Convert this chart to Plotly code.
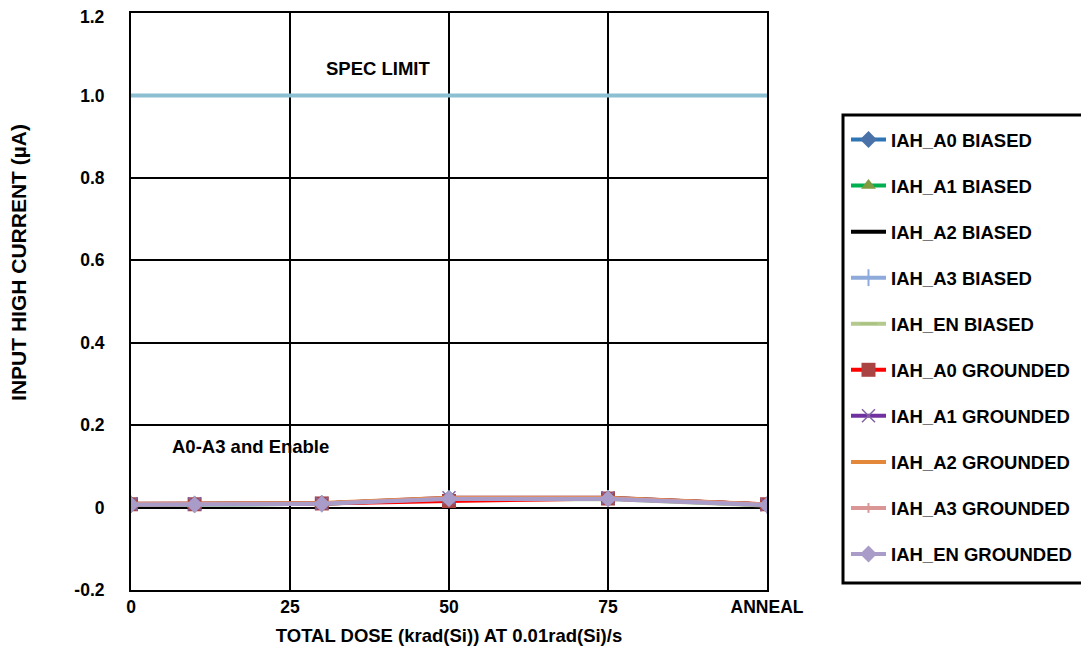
import plotly.graph_objects as go

# ---- data ----
dose_x = [0, 10, 30, 50, 75, 100]
x_tick_vals = [0, 25, 50, 75, 100]
x_tick_text = ["0", "25", "50", "75", "ANNEAL"]
y_tick_vals = [-0.2, 0, 0.2, 0.4, 0.6, 0.8, 1.0, 1.2]
y_tick_text = ["-0.2", "0", "0.2", "0.4", "0.6", "0.8", "1.0", "1.2"]

spec_x = [0, 100]
spec_y = [1.0, 1.0]

iah_a0_biased = [0.008, 0.008, 0.010, 0.022, 0.022, 0.007]
iah_a1_biased = [0.007, 0.007, 0.009, 0.021, 0.022, 0.006]
iah_a2_biased = [0.008, 0.008, 0.010, 0.022, 0.023, 0.007]
iah_a3_biased = [0.008, 0.008, 0.009, 0.021, 0.022, 0.006]
iah_en_biased = [0.007, 0.007, 0.009, 0.020, 0.021, 0.005]
iah_a0_grounded = [0.008, 0.008, 0.010, 0.016, 0.022, 0.008]
iah_a1_grounded = [0.009, 0.009, 0.010, 0.024, 0.024, 0.007]
iah_a2_grounded = [0.009, 0.009, 0.011, 0.024, 0.024, 0.008]
iah_a3_grounded = [0.008, 0.008, 0.010, 0.022, 0.022, 0.007]
iah_en_grounded = [0.007, 0.007, 0.009, 0.021, 0.021, 0.006]

series = [
    ("IAH_A0 BIASED", iah_a0_biased, "#2e75b6", dict(symbol="diamond", size=13, color="#4a72a8")),
    ("IAH_A1 BIASED", iah_a1_biased, "#00b050", dict(symbol="triangle-up", size=13, color="#7f9a3f")),
    ("IAH_A2 BIASED", iah_a2_biased, "#000000", None),
    ("IAH_A3 BIASED", iah_a3_biased, "#8eaadb", dict(symbol="line-ns", size=12, color="#8eaadb", line=dict(width=2, color="#8eaadb"))),
    ("IAH_EN BIASED", iah_en_biased, "#b4c98e", dict(symbol="line-ew", size=12, color="#a9c27f", line=dict(width=2, color="#a9c27f"))),
    ("IAH_A0 GROUNDED", iah_a0_grounded, "#ff0000", dict(symbol="square", size=14, color="#a94442")),
    ("IAH_A1 GROUNDED", iah_a1_grounded, "#7030a0", dict(symbol="x-thin", size=13, color="#8064a2", line=dict(width=1.5, color="#8064a2"))),
    ("IAH_A2 GROUNDED", iah_a2_grounded, "#e3873a", None),
    ("IAH_A3 GROUNDED", iah_a3_grounded, "#d99694", dict(symbol="line-ns", size=7, color="#d99694", line=dict(width=2, color="#d99694"))),
    ("IAH_EN GROUNDED", iah_en_grounded, "#a99cc8", dict(symbol="diamond", size=13, color="#a99cc8")),
]

fig = go.Figure()

fig.add_trace(go.Scatter(x=spec_x, y=spec_y, mode="lines",
                         line=dict(color="#8bbfd1", width=4),
                         showlegend=False, hoverinfo="skip"))

for i, (name, vals, col, mk) in enumerate(series):
    if mk is None:
        fig.add_trace(go.Scatter(x=dose_x, y=vals, mode="lines", name=name,
                                 legendgroup=f"g{i}",
                                 line=dict(color=col, width=4)))
    else:
        fig.add_trace(go.Scatter(x=dose_x, y=vals, mode="lines+markers", name=name,
                                 legendgroup=f"g{i}",
                                 line=dict(color=col, width=4), marker=mk))

font_family = "Liberation Sans, Arial, sans-serif"

# top tick label drawn as annotation (slightly below its gridline, so it is not clipped)
axis_tick_text = [t if v != max(y_tick_vals) else "" for v, t in zip(y_tick_vals, y_tick_text)]

fig.update_layout(
    width=1081, height=641,
    margin=dict(l=123, r=322, t=5, b=59, autoexpand=False),
    paper_bgcolor="white", plot_bgcolor="white",
    font=dict(family=font_family, size=15, color="black"),
    showlegend=True,
    legend=dict(
        x=1.1242, y=0.8128, xanchor="left", yanchor="top",
        bgcolor="rgba(0,0,0,0)", borderwidth=0,
        font=dict(family=font_family, size=18.5, color="black", weight="bold"),
        tracegroupgap=19,
        itemwidth=35,
        entrywidth=230,
    ),
    shapes=[
        dict(type="rect", xref="paper", yref="paper",
             x0=1.1195, x1=1.5, y0=0.0121, y1=0.8232,
             line=dict(color="black", width=3), fillcolor="rgba(0,0,0,0)", layer="above"),
    ],
    annotations=[
        dict(x=30.3, y=1.065, xref="x", yref="y", text="<b>SPEC LIMIT</b>", showarrow=False,
             xanchor="left", yanchor="middle", font=dict(size=18.5)),
        dict(x=6.1, y=0.148, xref="x", yref="y", text="<b>A0-A3 and Enable</b>", showarrow=False,
             xanchor="left", yanchor="middle", font=dict(size=18.5)),
        dict(x=-0.1762, y=0.5685, xref="paper", yref="paper", text="<b>INPUT HIGH CURRENT (µA)</b>",
             textangle=-90, showarrow=False, xanchor="center", yanchor="middle",
             font=dict(size=21)),
        dict(x=-0.0377, y=max(y_tick_vals), xref="paper", yref="y",
             text="<b>" + y_tick_text[-1] + "</b>", showarrow=False,
             xanchor="right", yanchor="middle", yshift=-4, font=dict(size=17.5)),
    ],
)

fig.update_xaxes(
    range=[0, 100], tickvals=x_tick_vals, ticktext=x_tick_text,
    showgrid=True, gridcolor="black", gridwidth=2,
    showline=True, linecolor="black", linewidth=2, mirror=True,
    zeroline=False, automargin=False, ticklabeloverflow="allow",
    ticks="outside", ticklen=0, tickcolor="rgba(0,0,0,0)",
    tickfont=dict(size=17.5, weight="bold"),
    title=dict(text="<b>TOTAL DOSE (krad(Si)) AT 0.01rad(Si)/s</b>", font=dict(size=18.5), standoff=13),
)
fig.update_yaxes(
    range=[-0.2, 1.2], tickvals=y_tick_vals, ticktext=axis_tick_text,
    showgrid=True, gridcolor="black", gridwidth=2,
    showline=True, linecolor="black", linewidth=2, mirror=True,
    zeroline=False, automargin=False, ticklabeloverflow="allow",
    ticks="outside", ticklen=21, tickcolor="rgba(0,0,0,0)",
    tickfont=dict(size=17.5, weight="bold"),
)

fig.write_html("out.html")
